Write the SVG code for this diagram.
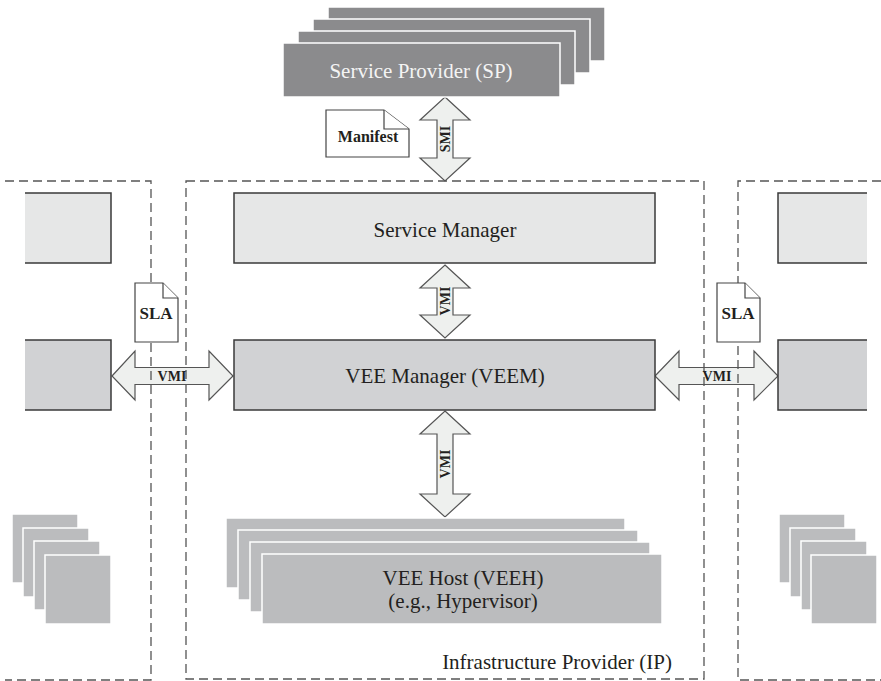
<svg xmlns="http://www.w3.org/2000/svg" width="881" height="681" viewBox="0 0 881 681">
<defs>
<style>
.bg{fill:#ffffff}
.dash{fill:none;stroke:#555;stroke-width:1.3;stroke-dasharray:9 5}
.sp{fill:#8b8b8d;stroke:#ffffff;stroke-width:1.5}
.stk{fill:#bbbcbe;stroke:#ffffff;stroke-width:1.5}
.light{fill:#e6e7e7;stroke:#3a3a3a;stroke-width:1.5}
.mid{fill:#d1d2d4;stroke:#3a3a3a;stroke-width:1.5}
.fillL{fill:#e6e7e7}
.fillM{fill:#d1d2d4}
.edge{fill:none;stroke:#3a3a3a;stroke-width:1.5}
.arrow{fill:#eef0ee;stroke:#555;stroke-width:1.2;stroke-linejoin:miter}
.doc{fill:#ffffff;stroke:#444;stroke-width:1.2}
.t{font-family:"Liberation Serif","Times New Roman",serif;fill:#231f20;text-anchor:middle}
.big{font-size:21px}
.sm{font-size:14px;font-weight:bold}
.doct{font-size:16px;font-weight:bold}
</style>
</defs>
<rect class="bg" x="0" y="0" width="881" height="681"/>

<g id="connectors">
<polygon id="smi-arrow" class="arrow" points="445,97 470,120 453,120 453,158 470,158 445,181 420,158 437,158 437,120 420,120"/>
<polygon id="vmi-up" class="arrow" points="445,265 470,288 453,288 453,315 470,315 445,338 420,315 437,315 437,288 420,288"/>
<polygon id="vmi-down" class="arrow" points="445,411 470,434 453,434 453,494 470,494 445,517 420,494 437,494 437,434 420,434"/>
<polygon id="vmi-left" class="arrow" points="112,376 135,351 135,367.5 209,367.5 209,351 233,376 209,400 209,384.5 135,384.5 135,400"/>
<polygon id="vmi-right" class="arrow" points="655,376 679,351 679,367.5 754,367.5 754,351 778,376 754,400 754,384.5 679,384.5 679,400"/>
</g>

<g id="sp">
<rect class="sp" x="328" y="7" width="277" height="54"/>
<rect class="sp" x="313" y="19" width="277" height="54"/>
<rect class="sp" x="298" y="31" width="277" height="54"/>
<rect class="sp" x="283" y="43" width="277" height="54"/>
<text class="t big" x="421" y="78" style="fill:#f4f4f4">Service Provider (SP)</text>
</g>

<g id="service-manager">
<rect class="light" x="234" y="193" width="421" height="70"/>
<text class="t big" x="445" y="237">Service Manager</text>
</g>

<g id="veem">
<rect class="mid" x="234" y="340" width="421" height="70"/>
<text class="t big" x="445" y="383">VEE Manager (VEEM)</text>
</g>

<g id="veeh">
<rect class="stk" x="226" y="518" width="399" height="70"/>
<rect class="stk" x="238" y="530" width="400" height="70"/>
<rect class="stk" x="250" y="542" width="400" height="70"/>
<rect class="stk" x="262" y="554" width="400" height="70"/>
<text class="t big" x="463" y="585">VEE Host (VEEH)</text>
<text class="t big" x="463" y="608">(e.g., Hypervisor)</text>
</g>

<g id="left-ip">
<rect class="fillL" x="25" y="193" width="86" height="70"/>
<path class="edge" d="M25,193 H111 V263 H25"/>
<rect class="fillM" x="25" y="340" width="86" height="70"/>
<path class="edge" d="M25,340 H111 V410 H25"/>
<rect class="stk" x="12" y="514" width="66" height="69"/>
<rect class="stk" x="23" y="528" width="66" height="69"/>
<rect class="stk" x="34" y="541" width="66" height="69"/>
<rect class="stk" x="45" y="555" width="66" height="69"/>
</g>

<g id="right-ip">
<rect class="fillL" x="778" y="193" width="89" height="70"/>
<path class="edge" d="M867,193 H778 V263 H867"/>
<rect class="fillM" x="778" y="340" width="89" height="70"/>
<path class="edge" d="M867,340 H778 V410 H867"/>
<rect class="stk" x="779" y="514" width="66" height="69"/>
<rect class="stk" x="790" y="528" width="66" height="69"/>
<rect class="stk" x="801" y="541" width="66" height="69"/>
<rect class="stk" x="811" y="555" width="66" height="69"/>
</g>

<g id="boundaries">
<path class="dash" d="M5,181 H151 V680 H5"/>
<rect class="dash" x="186" y="181" width="518" height="498"/>
<path class="dash" d="M881,181 H738 V680 H881"/>
</g>

<g id="ip-label">
<text class="t big" x="557" y="669">Infrastructure Provider (IP)</text>
</g>

<g id="arrow-labels">
<text class="t sm" transform="translate(450,139) rotate(-90)">SMI</text>
<text class="t sm" transform="translate(450,301) rotate(-90)">VMI</text>
<text class="t sm" transform="translate(450,464) rotate(-90)">VMI</text>
<text class="t sm" x="172" y="381">VMI</text>
<text class="t sm" x="717" y="381">VMI</text>
</g>

<g id="manifest">
<path class="doc" d="M326,110 H384 L409,129 V157 H326 Z"/>
<path class="doc" d="M384,110 V129 H409"/>
<text class="t doct" x="368" y="142">Manifest</text>
</g>

<g id="sla-left">
<path class="doc" d="M135,283 H163 L178,298 V342 H135 Z"/>
<path class="doc" d="M163,283 V298 H178"/>
<text class="t doct" x="156" y="319" style="font-size:17px">SLA</text>
</g>

<g id="sla-right">
<path class="doc" d="M717,283 H745 L760,298 V342 H717 Z"/>
<path class="doc" d="M745,283 V298 H760"/>
<text class="t doct" x="738" y="319" style="font-size:17px">SLA</text>
</g>
</svg>
